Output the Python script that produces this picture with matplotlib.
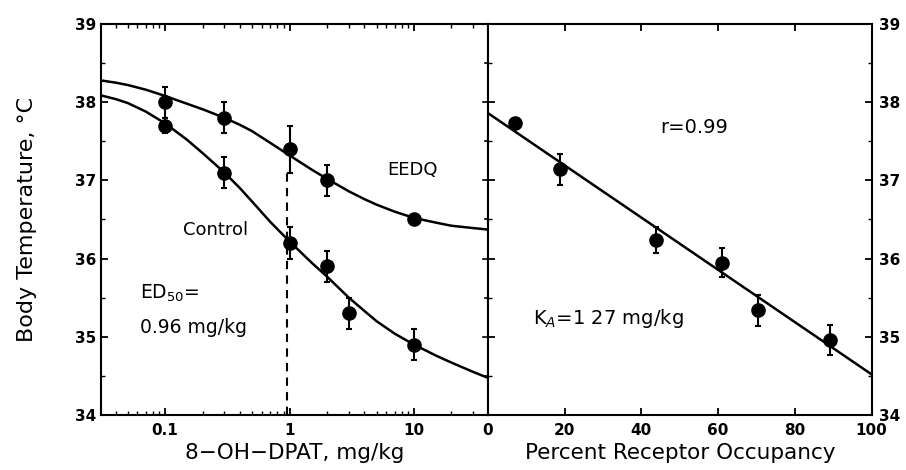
import numpy as np
import matplotlib
matplotlib.use('Agg')
import matplotlib.pyplot as plt
from matplotlib.ticker import MultipleLocator, LogLocator, FixedLocator, NullFormatter

# =============================================================================
# Data
# =============================================================================

# 8-OH-DPAT dose, mg/kg
ctrl_dose = [0.1, 0.3, 1, 2, 3, 10]
ctrl_temp = [37.7, 37.1, 36.2, 35.9, 35.3, 34.9]
ctrl_err = [0.1, 0.2, 0.2, 0.2, 0.2, 0.2]

eedq_dose = [0.1, 0.3, 1, 2, 10]
eedq_temp = [38.0, 37.8, 37.4, 37.0, 36.5]
eedq_err = [0.2, 0.2, 0.3, 0.2, 0.05]

# fitted curves, sampled from the figure
curve_dose = [0.03, 0.04, 0.05, 0.07, 0.1, 0.15, 0.2, 0.3, 0.4, 0.5, 0.7, 1,
              1.5, 2, 3, 4, 5, 7, 10, 15, 20, 30, 40]
ctrl_curve = [38.09, 38.04, 37.99, 37.88, 37.73, 37.52, 37.35, 37.1, 36.9, 36.73, 36.47, 36.22,
              35.95, 35.77, 35.5, 35.33, 35.2, 35.04, 34.9, 34.76, 34.67, 34.55, 34.47]
eedq_curve = [38.28, 38.25, 38.22, 38.16, 38.08, 37.98, 37.91, 37.8, 37.71, 37.63, 37.48, 37.32,
              37.14, 37.02, 36.86, 36.76, 36.69, 36.6, 36.52, 36.46, 36.42, 36.39, 36.37]

ed50 = 0.96

# Percent receptor occupancy
occ = [7.0, 18.9, 43.9, 61.1, 70.3, 89.1]
occ_temp = [37.73, 37.14, 36.24, 35.95, 35.34, 34.96]
occ_err = [0.05, 0.2, 0.17, 0.19, 0.2, 0.19]
fit_occ = [0, 100]
fit_temp = [37.86, 34.52]

# =============================================================================
# Plotting
# =============================================================================

plt.rcParams.update({'font.family': 'DejaVu Sans',
                     'axes.linewidth': 1.5,
                     'xtick.major.width': 1.3,
                     'ytick.major.width': 1.3,
                     'xtick.minor.width': 1.0,
                     'ytick.minor.width': 1.0})

fig = plt.figure(figsize=(9.06, 4.70), dpi=100)
ax1 = fig.add_axes([0.1115, 0.117, 0.4271, 0.832])
ax2 = fig.add_axes([0.5386, 0.117, 0.4234, 0.832])

mk = dict(fmt='o', color='black', ms=9.5, capsize=2.5, elinewidth=1.5, capthick=1.5)

# left panel
ax1.plot(curve_dose, ctrl_curve, 'k-', lw=1.8)
ax1.plot(curve_dose, eedq_curve, 'k-', lw=1.8)
ax1.errorbar(ctrl_dose, ctrl_temp, yerr=ctrl_err, **mk)
ax1.errorbar(eedq_dose, eedq_temp, yerr=eedq_err, **mk)
ax1.plot([ed50, ed50], [34, 37.1], 'k--', lw=1.5, dashes=(4, 3))

ax1.set_xscale('log')
ax1.set_xlim(0.0306, 39.3)
ax1.set_ylim(34, 39)
ax1.xaxis.set_major_locator(FixedLocator([0.1, 1, 10]))
ax1.set_xticklabels(['0.1', '1', '10'])
ax1.xaxis.set_minor_locator(LogLocator(base=10, subs=np.arange(2, 10)))
ax1.xaxis.set_minor_formatter(NullFormatter())
ax1.yaxis.set_major_locator(MultipleLocator(1))
ax1.yaxis.set_minor_locator(MultipleLocator(0.5))
ax1.tick_params(which='both', direction='in', top=True, right=False)
ax1.tick_params(which='major', length=5, labelsize=11)
ax1.tick_params(which='minor', length=3)
ax1.tick_params(axis='x', pad=6)
for lab in ax1.get_xticklabels() + ax1.get_yticklabels():
    lab.set_fontweight('bold')

ax1.text(9.7, 37.13, 'EEDQ', fontsize=13, ha='center', va='center')
ax1.text(0.255, 36.37, 'Control', fontsize=13, ha='center', va='center')
ax1.text(0.063, 35.55, r'ED$_{50}$=', fontsize=13.5, ha='left', va='center')
ax1.text(0.063, 35.12, '0.96 mg/kg', fontsize=13.5, ha='left', va='center')

ax1.set_xlabel('8\u2212OH\u2212DPAT, mg/kg', fontsize=15.5, labelpad=3)
ax1.set_ylabel('Body Temperature, \u00b0C', fontsize=16, labelpad=27)

# right panel
ax2.plot(fit_occ, fit_temp, 'k-', lw=1.8)
ax2.errorbar(occ, occ_temp, yerr=occ_err, **mk)
ax2.set_xlim(0, 100)
ax2.set_ylim(34, 39)
ax2.xaxis.set_major_locator(MultipleLocator(20))
ax2.yaxis.set_major_locator(MultipleLocator(1))
ax2.yaxis.set_minor_locator(MultipleLocator(0.5))
ax2.yaxis.tick_right()
ax2.tick_params(which='both', direction='in', top=True, left=True, right=True)
ax2.tick_params(which='major', length=5, labelsize=11)
ax2.tick_params(which='minor', length=3)
ax2.tick_params(axis='x', pad=6)
ax2.tick_params(axis='y', which='both', left=True, labelleft=False, pad=5)
for lab in ax2.get_xticklabels() + ax2.get_yticklabels():
    lab.set_fontweight('bold')

# ticks crossing the shared middle spine
for yv in np.arange(34.5, 39, 0.5):
    ln = 5 if float(yv).is_integer() else 3
    ax2.plot([0, -ln / 3.817], [yv, yv], 'k-', lw=1.2, clip_on=False)

ax2.text(53.7, 37.67, 'r=0.99', fontsize=14, ha='center', va='center')
ax2.text(11.8, 35.24, r'K$_{A}$=1 27 mg/kg', fontsize=14, ha='left', va='center')
ax2.set_xlabel('Percent Receptor Occupancy', fontsize=15.5, labelpad=3)

plt.savefig('out.png', dpi=100)
